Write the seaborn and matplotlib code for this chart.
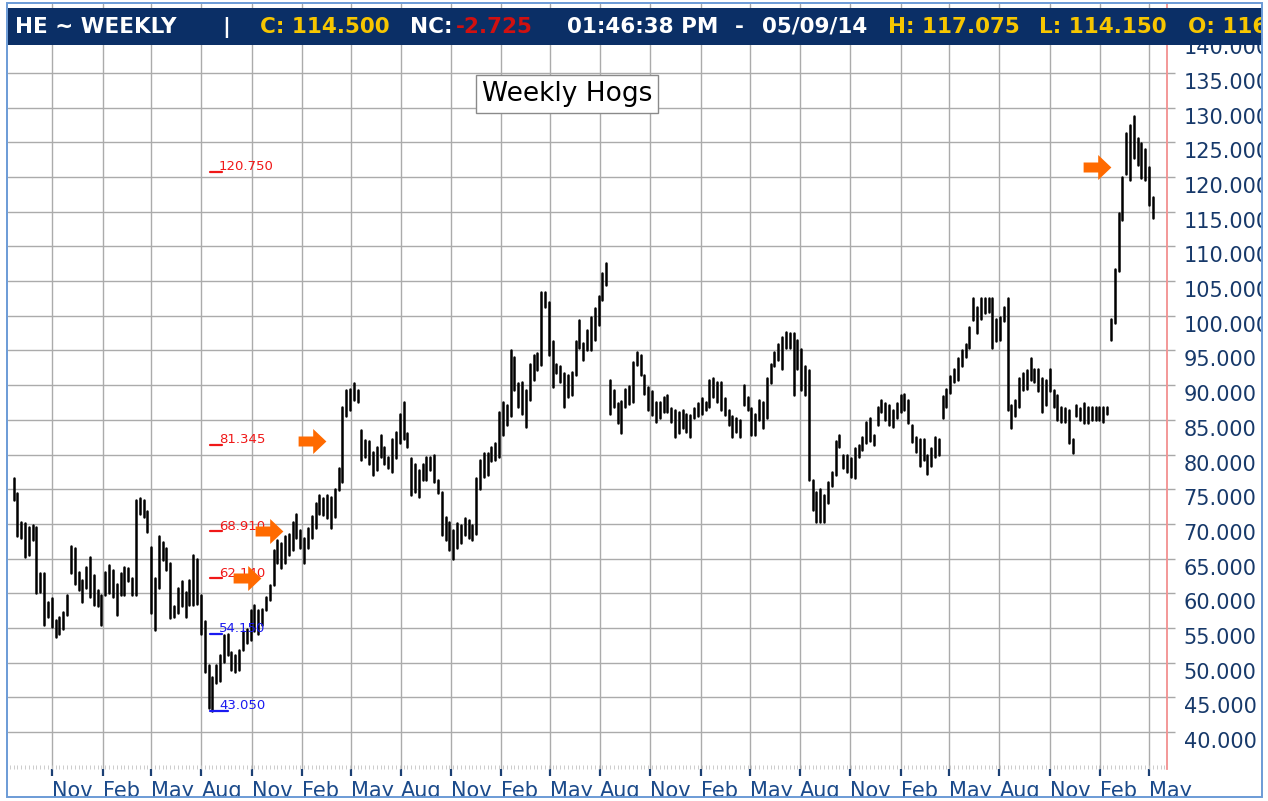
import numpy as np
import pandas as pd
import matplotlib
matplotlib.use('Agg')
import matplotlib.pyplot as plt
import matplotlib.dates as mdates
from matplotlib.path import Path
from matplotlib.patches import Rectangle
import seaborn as sns

# weekly high / low (lean hogs, continuous), last bar = week of 05/09/14
highs = [76.6, 74.4, 70.3, 70.1, 69.6, 69.8, 69.6, 62.9, 62.9, 58.8,
         59.3, 56.1, 56.6, 57.3, 59.8, 66.8, 66.5, 63.1, 61.9, 63.8,
         65.3, 62.6, 60.5, 59.8, 63.1, 64.1, 63.4, 61.4, 62.9, 63.8,
         63.6, 62.2, 73.4, 73.7, 73.4, 71.8, 66.7, 62.2, 68.2, 67.4,
         66.5, 64.3, 58.1, 60.7, 61.7, 60.2, 61.9, 65.5, 65.0, 59.8,
         56.0, 49.7, 48.0, 49.7, 51.1, 54.0, 54.15, 51.6, 51.1, 51.8,
         54.5, 54.9, 57.6, 58.3, 57.6, 57.8, 59.5, 61.2, 66.2, 67.7,
         67.2, 68.2, 68.6, 70.3, 71.5, 69.1, 68.0, 69.4, 71.2, 73.0,
         74.2, 73.7, 74.2, 73.9, 75.1, 78.0, 86.9, 89.3, 89.5, 90.3,
         89.3, 83.5, 82.1, 81.9, 80.4, 81.1, 82.8, 81.1, 79.7, 82.3,
         83.3, 85.9, 87.6, 83.1, 79.5, 78.7, 77.8, 78.7, 79.7, 79.7,
         79.9, 76.3, 74.6, 71.0, 70.3, 69.1, 70.1, 69.8, 70.8, 70.6,
         69.8, 76.6, 79.2, 80.2, 80.2, 81.1, 81.6, 86.2, 87.6, 87.1,
         95.1, 94.1, 90.3, 90.5, 89.3, 93.1, 94.3, 94.6, 103.5, 103.5,
         102.0, 96.3, 93.1, 92.7, 91.7, 91.5, 91.9, 96.3, 99.4, 96.1,
         98.0, 99.9, 101.1, 102.8, 106.1, 107.6, 90.7, 89.3, 87.5, 87.7,
         89.4, 89.9, 93.4, 94.8, 94.3, 91.5, 89.8, 89.1, 87.6, 87.6,
         88.3, 88.6, 86.7, 86.4, 86.2, 86.4, 85.9, 85.7, 86.7, 87.4,
         88.1, 87.6, 90.7, 91.0, 90.5, 90.5, 88.1, 86.4, 85.5, 85.2,
         85.0, 90.0, 88.3, 86.7, 85.9, 87.9, 87.6, 91.0, 93.1, 94.8,
         96.0, 97.0, 97.7, 97.5, 97.5, 96.5, 95.2, 92.7, 92.2, 76.3,
         74.6, 75.1, 74.2, 76.1, 77.5, 81.9, 82.8, 79.9, 79.9, 79.5,
         80.9, 81.4, 82.6, 84.7, 85.2, 82.8, 86.9, 87.9, 87.4, 87.1,
         86.4, 87.4, 88.6, 88.8, 87.9, 84.3, 82.5, 82.2, 82.2, 79.9,
         81.0, 82.6, 82.3, 88.5, 89.4, 91.3, 92.4, 93.9, 95.1, 96.0,
         98.4, 102.5, 101.3, 102.5, 102.5, 102.5, 102.5, 99.6, 99.9, 101.3,
         102.5, 87.1, 87.9, 91.0, 91.7, 92.2, 93.9, 92.4, 92.4, 91.0,
         90.7, 92.4, 89.3, 88.6, 86.9, 86.7, 86.4, 82.3, 87.1, 86.7,
         87.4, 86.9, 86.9, 86.9, 86.9, 86.9, 86.9, 99.5, 106.8, 114.8,
         120.0, 126.4, 127.5, 128.8, 125.7, 124.9, 124.1, 121.4, 117.075]
lows = [73.4, 68.2, 67.9, 65.3, 65.5, 67.7, 60.0, 60.2, 55.4, 56.6,
        55.2, 53.7, 54.2, 54.9, 56.9, 62.9, 61.4, 60.5, 58.8, 60.7,
        59.5, 58.3, 58.1, 55.4, 59.8, 60.0, 59.5, 56.9, 59.8, 59.8,
        61.7, 59.8, 59.8, 71.5, 71.0, 68.9, 57.1, 54.7, 60.7, 64.8,
        63.4, 56.4, 56.6, 57.1, 58.1, 56.6, 58.3, 58.3, 58.5, 54.2,
        48.7, 43.4, 43.05, 47.0, 47.3, 50.1, 51.1, 48.9, 48.7, 48.9,
        51.8, 52.8, 53.3, 54.5, 54.2, 55.4, 57.6, 59.0, 61.2, 64.3,
        63.6, 64.3, 65.5, 66.2, 67.9, 66.5, 64.3, 66.5, 68.0, 69.4,
        71.5, 71.3, 70.8, 69.4, 71.0, 74.9, 76.1, 85.5, 86.4, 87.9,
        87.6, 79.2, 79.7, 78.7, 77.0, 77.8, 79.7, 78.7, 78.0, 77.5,
        79.5, 81.6, 82.3, 81.1, 74.2, 74.6, 73.9, 76.3, 76.3, 77.8,
        76.1, 74.4, 68.4, 67.7, 66.2, 65.0, 66.5, 67.2, 68.4, 67.9,
        67.7, 68.6, 75.1, 76.8, 77.0, 79.0, 79.2, 79.7, 82.8, 84.3,
        85.5, 89.3, 86.9, 85.9, 84.0, 87.9, 90.7, 92.2, 92.9, 101.3,
        94.3, 89.8, 91.7, 90.5, 86.9, 88.3, 88.6, 91.5, 95.3, 93.6,
        95.1, 95.1, 96.5, 98.7, 102.3, 104.5, 85.9, 86.8, 84.5, 83.1,
        86.9, 87.3, 87.6, 92.9, 91.5, 88.8, 86.4, 85.7, 84.7, 85.2,
        86.2, 86.2, 84.7, 82.6, 83.1, 83.8, 83.3, 82.6, 85.2, 85.5,
        85.9, 86.4, 86.9, 88.3, 87.6, 86.4, 85.7, 84.3, 82.6, 83.3,
        82.6, 87.1, 86.4, 82.8, 82.8, 85.0, 83.8, 85.2, 90.3, 92.7,
        93.6, 92.4, 95.3, 95.3, 88.6, 92.4, 89.3, 88.6, 76.3, 72.0,
        70.3, 70.3, 70.3, 73.0, 75.4, 77.0, 81.1, 78.0, 77.5, 76.8,
        76.6, 79.7, 80.7, 81.6, 81.9, 81.4, 84.3, 86.2, 85.0, 84.3,
        84.0, 85.2, 86.2, 86.4, 84.5, 81.8, 80.4, 78.3, 79.2, 77.2,
        78.3, 79.7, 80.0, 85.2, 86.9, 88.9, 90.5, 90.7, 92.7, 94.1,
        95.3, 99.4, 97.5, 99.6, 100.4, 100.6, 95.3, 96.3, 96.5, 99.2,
        86.4, 83.8, 85.5, 86.9, 89.3, 89.5, 90.7, 90.5, 89.1, 86.2,
        87.1, 89.1, 86.9, 85.0, 84.7, 84.7, 81.6, 80.2, 85.5, 85.0,
        84.5, 84.5, 85.0, 85.0, 85.0, 84.7, 85.9, 96.5, 98.9, 106.4,
        113.8, 120.5, 119.6, 122.7, 121.7, 119.8, 119.6, 116.0, 114.15]
last_week = '2014-05-09'

# fibonacci levels drawn from the 2009 low
fib_levels = [120.75, 81.345, 68.91, 62.14, 54.15, 43.05]
fib_labels = ['120.750', '81.345', '68.910', '62.140', '54.150', '43.050']
fib_colors = ['#F01818', '#F01818', '#F01818', '#F01818', '#1A1AF0', '#1A1AF0']

# orange markers
arrow_dates = ['2009-10-24', '2009-12-02', '2010-02-19', '2014-01-27']
arrow_prices = [62.2, 69.0, 81.9, 121.4]

header = [('HE ~ WEEKLY', 15, 'white'), ('|', 222, 'white'),
          ('C: 114.500', 260, '#F7C600'), ('NC:', 410, 'white'),
          ('-2.725', 456, '#D01010'), ('01:46:38 PM', 567, 'white'),
          ('-', 735, 'white'), ('05/09/14', 762, 'white'),
          ('H: 117.075', 888, '#F7C600'), ('L: 114.150', 1039, '#F7C600'),
          ('O: 116.250', 1188, '#F7C600')]

sns.set_style('whitegrid')
plt.rcParams['font.family'] = ['DejaVu Sans']

W, H = 1268, 801
fig = plt.figure(figsize=(W / 100, H / 100), dpi=100)
fig.patch.set_facecolor('white')

ax = fig.add_axes([8 / W, 1 - 769 / H, (1167 - 8) / W, (769 - 4) / H])
ax.set_facecolor('white')

n = len(highs)
weeks = pd.date_range(end=last_week, periods=n, freq='W-FRI')
bars = pd.DataFrame({'week': np.repeat(np.arange(n), 2),
                     'date': np.repeat(weeks, 2),
                     'price': np.column_stack([highs, lows]).ravel()})
sns.lineplot(data=bars, x='date', y='price', units='week', estimator=None,
             color='black', lw=1.8, ax=ax, legend=False, sort=False)

# fib lines + labels
seg_start = pd.Timestamp('2009-08-16')
for lev, lab, c in zip(fib_levels, fib_labels, fib_colors):
    seg_end = pd.Timestamp('2009-09-18') if lab == '43.050' else pd.Timestamp('2009-09-07')
    ax.plot([seg_start, seg_end], [lev, lev], color=c, lw=1.6, zorder=4)
    ax.text(pd.Timestamp('2009-09-02'), lev + 0.25, lab, color=c, fontsize=9.5,
            ha='left', va='baseline', zorder=4)

arrow = Path([(-1, -0.36), (0.05, -0.36), (0.05, -0.9), (1, 0), (0.05, 0.9),
              (0.05, 0.36), (-1, 0.36), (-1, -0.36)],
             [Path.MOVETO] + [Path.LINETO] * 6 + [Path.CLOSEPOLY])
sns.scatterplot(x=pd.to_datetime(arrow_dates), y=arrow_prices, marker=arrow, s=400,
                color='#FF6A00', linewidth=0, ax=ax, zorder=6)

ax.set_xlim(pd.Timestamp('2008-08-11 22:00'), pd.Timestamp('2014-06-03 19:00'))
ax.set_ylim(34.67, 144.95)
ax.set_xlabel('')
ax.set_ylabel('')

yt = np.arange(40, 141, 5)
ax.yaxis.tick_right()
ax.set_yticks(yt)
ax.set_yticklabels([f'{v:.3f}' for v in yt], va='top', color='#17396A', fontsize=15)
ax.tick_params(axis='y', which='major', length=6, width=1, color='#A8A8A8',
               direction='out', pad=6, right=True, left=False)

ax.xaxis.set_major_locator(mdates.MonthLocator(bymonth=[2, 5, 8, 11]))
ax.xaxis.set_major_formatter(mdates.DateFormatter('%b'))
ax.xaxis.set_minor_locator(mdates.WeekdayLocator(byweekday=mdates.FR))
ax.tick_params(axis='x', which='major', length=5, width=1.6, color='#1B3F73',
               direction='out', pad=3.5, bottom=True, labelsize=15, labelcolor='#1B4A8A')
ax.tick_params(axis='x', which='minor', length=3, width=0.6, color='#C4C4C4',
               direction='in', bottom=True)
for lab in ax.get_xticklabels():
    lab.set_ha('left')

ax.grid(True, which='major', color='#ABABAB', lw=1.0)
ax.grid(False, which='minor')
ax.set_axisbelow(True)
for s in ['left', 'top', 'bottom']:
    ax.spines[s].set_visible(False)
ax.spines['right'].set_color('#F29090')
ax.spines['right'].set_linewidth(1.3)

# header bar
hax = fig.add_axes([8 / W, 1 - 45 / H, (1262 - 8) / W, 37 / H], zorder=3)
hax.set_facecolor('#0B2F66')
hax.set_xlim(8, 1262)
hax.set_ylim(45, 8)
hax.set_xticks([])
hax.set_yticks([])
for s in hax.spines.values():
    s.set_visible(False)
for txt, x, c in header:
    hax.text(x, 27, txt, color=c, fontsize=15.5, fontweight='bold',
             ha='left', va='center', clip_on=True)

fig.text(567 / W, 1 - 94 / H, 'Weekly Hogs', ha='center', va='center', fontsize=19,
         color='black', zorder=4,
         bbox=dict(boxstyle='square,pad=0.22', fc='white', ec='#8A8A8A', lw=1.0))

# clip everything outside the frame, then draw the frame
fig.patches.append(Rectangle((1263 / W, 0), 5 / W, 1, transform=fig.transFigure,
                             fc='white', ec='none', zorder=8))
fig.patches.append(Rectangle((0, 0), 1, 4 / H, transform=fig.transFigure,
                             fc='white', ec='none', zorder=8))
fig.patches.append(Rectangle((7 / W, 4 / H), 1255 / W, 794 / H, transform=fig.transFigure,
                             fill=False, ec='#6B9BD6', lw=1.4, zorder=9))

fig.savefig('out.png', dpi=100)
